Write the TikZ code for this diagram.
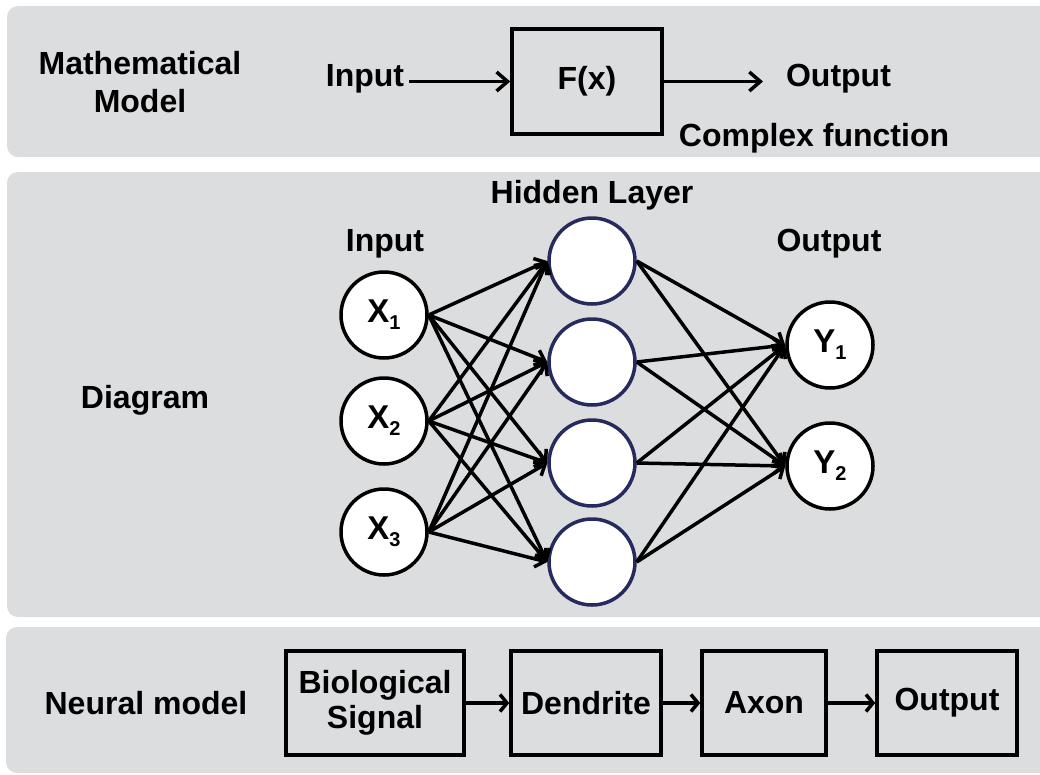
\documentclass[tikz,border=0pt]{standalone}
\usepackage{fontspec}
\setmainfont{Liberation Sans}
\usetikzlibrary{arrows.meta}
\definecolor{panelgray}{RGB}{220,221,223}
\definecolor{navy}{RGB}{38,42,92}
\newcommand{\subsc}[1]{\raisebox{-0.4ex}{\fontsize{20}{20}\selectfont #1}}
\begin{document}
\begin{tikzpicture}[x=1pt,y=-1pt,
  panel/.style={fill=panelgray, draw=none, rounded corners=11pt},
  lbl/.style={font=\bfseries\fontsize{32}{38}\selectfont, inner sep=0pt, align=center, text=black},
  inode/.style={circle, draw=black, line width=3.5pt, fill=white, minimum size=86pt, inner sep=0pt, font=\bfseries\fontsize{33}{38}\selectfont},
  hnode/.style={circle, draw=navy, line width=3.5pt, fill=white, minimum size=86pt, inner sep=0pt},
  blk/.style={draw=black, line width=3.5pt, inner sep=0pt, align=center, font=\bfseries\fontsize{32}{36}\selectfont},
  bigarr/.style={line width=3.5pt, -{Straight Barb[length=11pt,width=19pt]}},
  conn/.style={line width=3.5pt, -{Straight Barb[length=9pt,width=16pt]}},
  smallarr/.style={line width=3.5pt, -{Straight Barb[length=7pt,width=17pt]}}
]
\useasboundingbox (0,0) rectangle (1040,774);
\clip (0,0) rectangle (1040,774);
% panels
\fill[panel] (7,6) rectangle (1060,157);
\fill[panel] (7,172) rectangle (1060,617);
\fill[panel] (6,627) rectangle (1060,773);

% ---- Mathematical model
\node[lbl] (mm) at (140,82) {Mathematical\\Model};
\node[lbl, inner xsep=5pt] (inp) at (365,79) {Input};
\node[blk, minimum width=150pt, minimum height=105pt] (fx) at (587,81.5) {F(x)};
\coordinate (fxend) at (763,81.5);
\node[lbl] (outlbl) at (838.5,79) {Output};
\node[lbl] (cf) at (814,138) {Complex function};
\draw[bigarr] (fx.west -| inp.east) -- (fx.west);
\draw[bigarr] (fx.east) -- (fxend);

% ---- Diagram
\node[lbl] (diag) at (145,400) {Diagram};
\node[lbl] (hl) at (592,195) {Hidden Layer};
\node[lbl] (inlbl) at (385,244) {Input};
\node[lbl] (outlbl2) at (829,244) {Output};

\node[inode] (x1) at (384,315) {X\subsc{1}};
\node[inode] (x2) at (384,421) {X\subsc{2}};
\node[inode] (x3) at (384,532) {X\subsc{3}};

\node[hnode] (h1) at (592,261) {};
\node[hnode] (h2) at (592,362) {};
\node[hnode] (h3) at (592,463) {};
\node[hnode] (h4) at (592,562) {};

\node[inode] (y1) at (830,345) {Y\subsc{1}};
\node[inode] (y2) at (830,466) {Y\subsc{2}};

\foreach \i in {1,2,3}{
  \foreach \j in {1,2,3,4}{
    \draw[conn] (x\i.east) -- (h\j.west);
  }
}
\foreach \j in {1,2,3,4}{
  \foreach \k in {1,2}{
    \draw[conn] (h\j.east) -- (y\k.west);
  }
}

% ---- Neural model
\node[lbl] (nm) at (146,703) {Neural model};
\node[blk, minimum width=178pt, minimum height=104pt] (b1) at (375,703) {Biological\\[-1pt]Signal};
\node[blk, minimum width=150pt, minimum height=104pt] (b2) at (586,703) {Dendrite};
\node[blk, minimum width=124pt, minimum height=104pt] (b3) at (764,703) {Axon};
\node[blk, minimum width=140pt, minimum height=104pt] (b4) at (947,703) {Output};
\draw[smallarr] (b1.east) -- (b2.west);
\draw[smallarr] (b2.east) -- (b3.west);
\draw[smallarr] (b3.east) -- (b4.west);
\end{tikzpicture}
\end{document}
